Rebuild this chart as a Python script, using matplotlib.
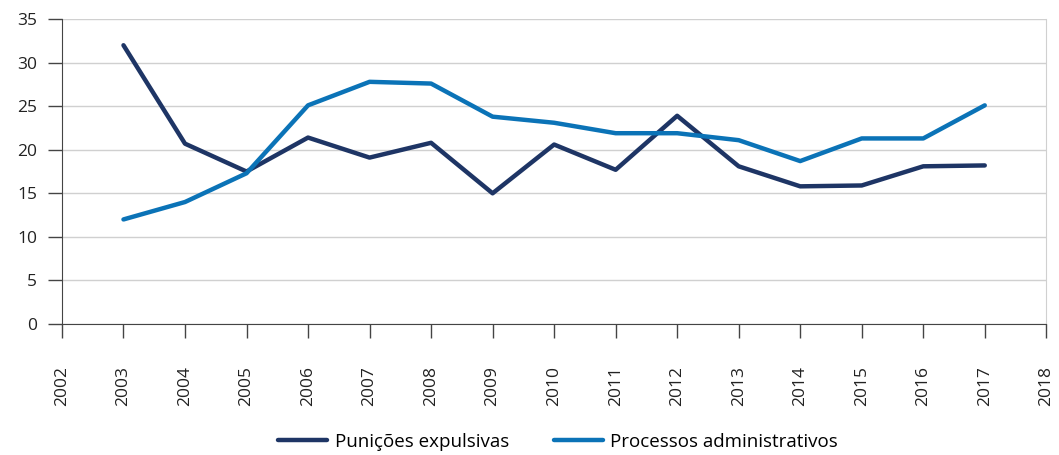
import matplotlib
matplotlib.use('Agg')
import matplotlib.pyplot as plt

plt.rcParams['font.family'] = ['Open Sans', 'DejaVu Sans']

anos = list(range(2003, 2018))
punicoes = [32.0, 20.7, 17.5, 21.4, 19.1, 20.8, 15.0, 20.6, 17.7, 23.9, 18.1, 15.8, 15.9, 18.1, 18.2]
processos = [12.0, 14.0, 17.3, 25.1, 27.8, 27.6, 23.8, 23.1, 21.9, 21.9, 21.1, 18.7, 21.3, 21.3, 25.1]
xticks = list(range(2002, 2019))
yticks = [0, 5, 10, 15, 20, 25, 30, 35]

navy = '#1e3565'
azul = '#0b73b7'

fig = plt.figure(figsize=(10.59, 4.55), dpi=100)
ax = fig.add_axes([0.0585, 0.288, 0.9295, 0.67])

ax.plot(anos, punicoes, color=navy, lw=3.2, label='Punições expulsivas', solid_capstyle='round')
ax.plot(anos, processos, color=azul, lw=3.2, label='Processos administrativos', solid_capstyle='round')

ax.set_xlim(2002, 2018)
ax.set_ylim(0, 35)
ax.set_xticks(xticks)
ax.set_xticklabels([str(a) for a in xticks], rotation=90)
ax.set_yticks(yticks)
ax.grid(axis='y', color='#d0d0d0', lw=1)
ax.set_axisbelow(True)

ax.spines['top'].set_visible(False)
ax.spines['right'].set_color('#d0d0d0')
ax.spines['left'].set_color('#444444')
ax.spines['bottom'].set_color('#444444')
ax.tick_params(axis='both', length=10, width=1, color='#444444', labelsize=12.5, labelcolor='#222222')
ax.tick_params(axis='x', pad=20)
ax.tick_params(axis='y', pad=8)

leg = fig.legend(loc='lower center', bbox_to_anchor=(0.527, -0.028), ncol=2, frameon=False,
                 fontsize=13.5, handlelength=2.6, columnspacing=2.4, handletextpad=0.4)

fig.savefig('out.png', dpi=100)
